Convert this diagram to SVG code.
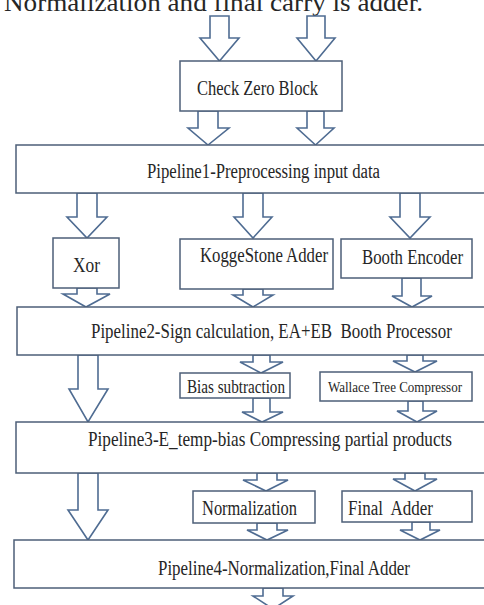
<svg xmlns="http://www.w3.org/2000/svg" width="484" height="605" viewBox="0 0 484 605">
<style>
.bg{fill:#ffffff}
.box{fill:#ffffff;stroke:#4d5f78;stroke-width:1.5}
.arr{fill:#ffffff;stroke:#4f6c92;stroke-width:1.6;stroke-linejoin:miter}
.t{font-family:"Liberation Serif","Times New Roman",serif;fill:#262626;text-anchor:start}
</style>
<rect class="bg" x="0" y="0" width="484" height="605"/>
<text class="t" x="4" y="11" font-size="25" textLength="419" lengthAdjust="spacingAndGlyphs">Normalization and final carry is adder.</text>
<g id="connectors">
<polygon class="arr" points="210,16 229,16 229,38 239,38 219.5,61 200,38 210,38"/>
<polygon class="arr" points="307,16 325,16 325,38 335,38 316,61 297,38 307,38"/>
<polygon class="arr" points="198,111 218,111 218,128 229,128 208,145 188,128 198,128"/>
<polygon class="arr" points="307,111 324,111 324,128 334,128 315.5,145 297,128 307,128"/>
<polygon class="arr" points="77,193 97,193 97,217 107,217 87,238 67,217 77,217"/>
<polygon class="arr" points="243,193 263,193 263,217 272,217 253,238 234,217 243,217"/>
<polygon class="arr" points="400,193 420,193 420,217 430,217 410,238 390,217 400,217"/>
<polygon class="arr" points="77,288 97,288 97,294 110,294 86,307 63,294 77,294"/>
<polygon class="arr" points="243,289 263,289 263,295 273,295 253,307 233,295 243,295"/>
<polygon class="arr" points="402,278 421,278 421,296 432,296 412,307 392,296 402,296"/>
<polygon class="arr" points="78,355 98,355 98,389 108,389 88,422 69,389 78,389"/>
<polygon class="arr" points="253,355 270,355 270,362 283,362 261,373 240,362 253,362"/>
<polygon class="arr" points="407,355 423,355 423,361 437,361 415,372 393,361 407,361"/>
<polygon class="arr" points="253,398 270,398 270,412 283,412 262,422 242,412 253,412"/>
<polygon class="arr" points="408,401 423,401 423,411 437,411 417,422 397,411 408,411"/>
<polygon class="arr" points="78,473 98,473 98,510 108,510 88,540 68,510 78,510"/>
<polygon class="arr" points="257,473 277,473 277,480 288,480 266,491 243,480 257,480"/>
<polygon class="arr" points="405,473 425,473 425,479 437,479 415,491 393,479 405,479"/>
<polygon class="arr" points="257,523 277,523 277,530 288,530 267,540 247,530 257,530"/>
<polygon class="arr" points="412,522 430,522 430,530 440,530 420,540 400,530 412,530"/>
<polygon class="arr" points="263,588 283,588 283,596 293,596 273,609 253,596 263,596"/>
</g>
<g id="checkzero">
<rect class="box" x="180" y="61" width="162" height="50"/>
<text class="t" x="197" y="95" font-size="21" textLength="121" lengthAdjust="spacingAndGlyphs">Check Zero Block</text>
</g>
<g id="pipeline1">
<rect class="box" x="16" y="145" width="480" height="48"/>
<text class="t" x="147" y="178" font-size="20" textLength="233" lengthAdjust="spacingAndGlyphs">Pipeline1-Preprocessing input data</text>
</g>
<g id="xor">
<rect class="box" x="53" y="238" width="66" height="50"/>
<text class="t" x="73" y="272" font-size="22" textLength="27" lengthAdjust="spacingAndGlyphs">Xor</text>
</g>
<g id="koggestone">
<rect class="box" x="180" y="239" width="153" height="50"/>
<text class="t" x="200" y="262" font-size="20" textLength="128" lengthAdjust="spacingAndGlyphs">KoggeStone Adder</text>
</g>
<g id="booth">
<rect class="box" x="341" y="239" width="131" height="39"/>
<text class="t" x="362" y="264" font-size="20" textLength="101" lengthAdjust="spacingAndGlyphs">Booth Encoder</text>
</g>
<g id="pipeline2">
<rect class="box" x="17" y="307" width="480" height="48"/>
<text class="t" transform="translate(91,338) scale(0.8,1)" x="0" y="0" font-size="21" textLength="451" lengthAdjust="spacingAndGlyphs" xml:space="preserve">Pipeline2-Sign calculation, EA+EB  Booth Processor</text>
</g>
<g id="bias">
<rect class="box" x="180" y="373" width="110" height="25"/>
<text class="t" x="187" y="393" font-size="18" textLength="98" lengthAdjust="spacingAndGlyphs">Bias subtraction</text>
</g>
<g id="wallace">
<rect class="box" x="320" y="372" width="152" height="29"/>
<text class="t" x="328" y="392" font-size="14" textLength="134" lengthAdjust="spacingAndGlyphs">Wallace Tree Compressor</text>
</g>
<g id="pipeline3">
<rect class="box" x="16" y="422" width="480" height="51"/>
<text class="t" transform="translate(88,446) scale(0.8,1)" x="0" y="0" font-size="21" textLength="455" lengthAdjust="spacingAndGlyphs">Pipeline3-E_temp-bias Compressing partial products</text>
</g>
<g id="normalization">
<rect class="box" x="193" y="491" width="122" height="32"/>
<text class="t" x="202" y="515" font-size="20" textLength="95" lengthAdjust="spacingAndGlyphs">Normalization</text>
</g>
<g id="finaladder">
<rect class="box" x="342" y="491" width="130" height="31"/>
<text class="t" x="348" y="515" font-size="20" textLength="85" lengthAdjust="spacingAndGlyphs" xml:space="preserve">Final  Adder</text>
</g>
<g id="pipeline4">
<rect class="box" x="14" y="540" width="480" height="48"/>
<text class="t" x="158" y="575" font-size="20" textLength="252" lengthAdjust="spacingAndGlyphs">Pipeline4-Normalization,Final Adder</text>
</g>
</svg>
